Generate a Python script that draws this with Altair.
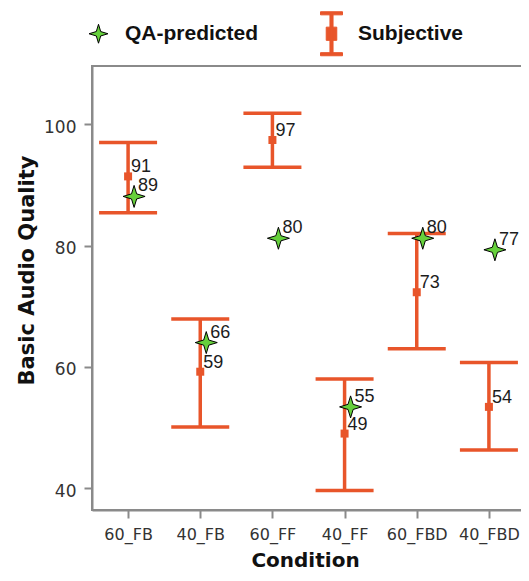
import altair as alt
import pandas as pd

conditions = ["60_FB", "40_FB", "60_FF", "40_FF", "60_FBD", "40_FBD"]
subj_mean = [91.4, 59.2, 97.4, 49.0, 72.3, 53.4]
subj_low = [85.4, 50.1, 92.9, 39.6, 63.0, 46.3]
subj_high = [97.0, 67.9, 101.8, 58.0, 82.0, 60.7]
subj_label = ["91", "59", "97", "49", "73", "54"]
qa_value = [88.1, 64.0, 81.2, 53.4, 81.2, 79.3]
qa_label = ["89", "66", "80", "55", "80", "77"]
series = ["QA-predicted", "Subjective"]

ORANGE = "#E8552A"
GREEN = "#66D03C"
AXIS_GRAY = "#8a8a8a"

# star glyph plus two zero-length anchors so its bounds match the error-bar glyph
STAR = ("M0,-0.43L0.1,-0.1L0.43,0L0.1,0.1L0,0.43L-0.1,0.1L-0.43,0L-0.1,-0.1Z"
        "M0,-1L0,-1M0,1L0,1")
ERRBAR = ("M-0.5,-1L0.5,-1L0.5,-0.86L-0.5,-0.86Z"
          "M-0.07,-0.86L0.07,-0.86L0.07,0.86L-0.07,0.86Z"
          "M-0.24,-0.3L0.24,-0.3L0.24,0.3L-0.24,0.3Z"
          "M-0.5,0.86L0.5,0.86L0.5,1L-0.5,1Z")

subj = pd.DataFrame({"Condition": conditions, "mean": subj_mean, "low": subj_low,
                     "high": subj_high, "label": subj_label})
qa = pd.DataFrame({"Condition": conditions, "value": qa_value, "label": qa_label,
                   "series": ["QA-predicted"] * len(conditions)})

x = alt.X("Condition:N", sort=conditions,
          scale=alt.Scale(type="point", padding=0.5),
          axis=alt.Axis(title="Condition", labelAngle=0, labelFont="DejaVu Sans",
                        labelFontSize=16, labelColor="#333", labelPadding=8,
                        tickSize=8, tickWidth=2, tickColor=AXIS_GRAY,
                        domainColor=AXIS_GRAY, domainWidth=2,
                        titleFont="DejaVu Sans", titleFontSize=20, titleFontWeight="bold",
                        titleColor="#111", titleX=213, titleY=40))

yscale = alt.Scale(domain=[36.4, 109.6], nice=False, zero=False)
yaxis = alt.Axis(title="Basic Audio Quality", values=[40, 60, 80, 100], grid=False,
                 labelFont="DejaVu Sans", labelFontSize=17, labelColor="#333",
                 labelPadding=8, labelOffset=3, tickSize=8, tickWidth=2,
                 tickColor=AXIS_GRAY, domainColor=AXIS_GRAY, domainWidth=2,
                 titleFont="DejaVu Sans", titleFontSize=21, titleFontWeight="bold",
                 titleColor="#111", titleX=-55, titleY=204)

base_s = alt.Chart(subj)
rule = base_s.mark_rule(color=ORANGE, strokeWidth=3.5).encode(
    x=x, y=alt.Y("low:Q", scale=yscale, axis=yaxis), y2="high:Q")
cap_lo = base_s.mark_tick(color=ORANGE, size=58, thickness=3.5, opacity=1).encode(
    x=x, y=alt.Y("low:Q", scale=yscale, axis=yaxis))
cap_hi = base_s.mark_tick(color=ORANGE, size=58, thickness=3.5, opacity=1).encode(
    x=x, y=alt.Y("high:Q", scale=yscale, axis=yaxis))
sq = base_s.mark_square(color=ORANGE, size=64, opacity=1).encode(
    x=x, y=alt.Y("mean:Q", scale=yscale, axis=yaxis))
sq_text = base_s.mark_text(align="left", baseline="middle", dx=3, dy=-9,
                           font="Liberation Sans", fontSize=18, color="#1c1c1c").encode(
    x=x, y=alt.Y("mean:Q", scale=yscale, axis=yaxis), text="label:N")

stars = alt.Chart(qa).mark_point(filled=True, size=2618, strokeWidth=1, opacity=1,
                                 xOffset=6).encode(
    x=x, y=alt.Y("value:Q", scale=yscale, axis=yaxis),
    shape=alt.Shape("series:N", scale=alt.Scale(domain=series, range=[STAR, ERRBAR]),
                    legend=alt.Legend(title=None)),
    fill=alt.Fill("series:N", scale=alt.Scale(domain=series, range=[GREEN, ORANGE]),
                  legend=alt.Legend(title=None)),
    stroke=alt.Stroke("series:N", scale=alt.Scale(domain=series, range=["#000000", ORANGE]),
                      legend=alt.Legend(title=None)),
)
star_text = alt.Chart(qa).mark_text(align="left", baseline="middle", dx=10, dy=-10,
                                    font="Liberation Sans", fontSize=18,
                                    color="#1c1c1c").encode(
    x=x, y=alt.Y("value:Q", scale=yscale, axis=yaxis), text="label:N")

chart = alt.layer(rule, cap_lo, cap_hi, sq, sq_text, stars, star_text).properties(
    width=433, height=444,
    autosize=alt.AutoSizeParams(type="none"),
    padding={"left": 84, "top": 58, "right": -4, "bottom": 63},
).configure_view(stroke=AXIS_GRAY, strokeWidth=2).configure_legend(
    orient="none", legendX=-16, legendY=-55, direction="horizontal",
    symbolSize=1936, symbolStrokeWidth=1, labelFont="Liberation Sans",
    labelFontSize=21, labelFontWeight="bold", labelColor="#111",
    labelOffset=4, columnPadding=50,
)

chart.save("out.html", embed_options={"renderer": "svg", "actions": False})
